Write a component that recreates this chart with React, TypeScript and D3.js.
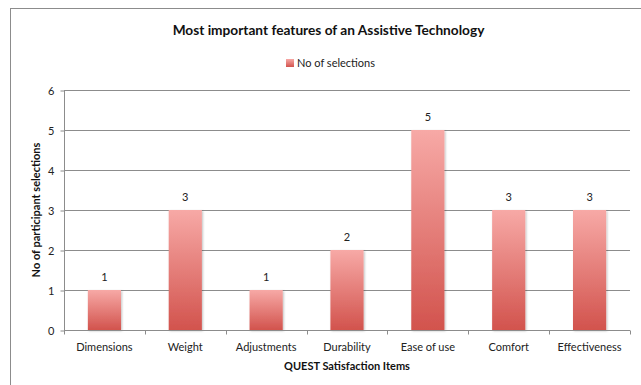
import { useEffect, useRef } from "react"
import * as d3 from "d3"

const categories = ["Dimensions", "Weight", "Adjustments", "Durability", "Ease of use", "Comfort", "Effectiveness"]
const selections = [1, 3, 1, 2, 5, 3, 3]
const yTicks = [0, 1, 2, 3, 4, 5, 6]

const W = 641
const H = 385
const FONT = "Lato, 'Open Sans', sans-serif"

export default function App() {
  const svgRef = useRef<SVGSVGElement>(null)

  useEffect(() => {
    const svg = d3.select(svgRef.current!)
    svg.selectAll("*").remove()

    const left = 64
    const right = 630
    const top = 90
    const bottom = 330

    const x = d3.scaleBand<string>().domain(categories).range([left, right]).paddingInner(0.59).paddingOuter(0.295)
    const band = d3.scaleBand<string>().domain(categories).range([left, right])
    const y = d3.scaleLinear().domain([0, 6]).range([bottom, top])

    const defs = svg.append("defs")
    const grad = defs
      .append("linearGradient")
      .attr("id", "barGrad")
      .attr("x1", 0)
      .attr("y1", 0)
      .attr("x2", 0)
      .attr("y2", 1)
    grad.append("stop").attr("offset", "0%").attr("stop-color", "#f7a9a6")
    grad.append("stop").attr("offset", "100%").attr("stop-color", "#d2534d")

    const shadow = defs.append("filter").attr("id", "shadow").attr("x", "-20%").attr("y", "-10%").attr("width", "150%").attr("height", "130%")
    shadow.append("feDropShadow").attr("dx", 1).attr("dy", 1).attr("stdDeviation", 1).attr("flood-color", "#000").attr("flood-opacity", 0.25)

    // chart frame
    svg
      .append("rect")
      .attr("x", 10.5)
      .attr("y", 8.5)
      .attr("width", W + 20)
      .attr("height", H + 20)
      .attr("fill", "#fff")
      .attr("stroke", "#8c8c8c")

    // title
    svg
      .append("text")
      .attr("x", 328.5)
      .attr("y", 35)
      .attr("text-anchor", "middle")
      .attr("font-family", FONT)
      .attr("font-size", 13.7)
      .attr("font-weight", 700)
      .attr("fill", "#111")
      .text("Most important features of an Assistive Technology")

    // legend
    svg.append("rect").attr("x", 286).attr("y", 59).attr("width", 8).attr("height", 8).attr("fill", "url(#barGrad)")
    svg
      .append("text")
      .attr("x", 297)
      .attr("y", 67)
      .attr("font-family", FONT)
      .attr("font-size", 11)
      .attr("fill", "#222")
      .text("No of selections")

    // gridlines
    svg
      .append("g")
      .selectAll("line")
      .data(yTicks.slice(1))
      .join("line")
      .attr("x1", left)
      .attr("x2", right)
      .attr("y1", (d) => Math.round(y(d)) + 0.5)
      .attr("y2", (d) => Math.round(y(d)) + 0.5)
      .attr("stroke", "#8c8c8c")

    // y axis
    const yAxis = svg.append("g").attr("transform", `translate(${left + 0.5},0.5)`)
    yAxis.call(d3.axisLeft(y).tickValues(yTicks).tickSize(4).tickPadding(6).tickFormat(d3.format("d")))
    yAxis.select(".domain").attr("stroke", "#8c8c8c").attr("d", `M0,${y(6)}V${y(0)}`)
    yAxis.selectAll(".tick line").attr("stroke", "#8c8c8c")
    yAxis.selectAll("text").attr("font-family", FONT).attr("font-size", 11).attr("fill", "#222")

    // bars
    svg
      .append("g")
      .selectAll("rect")
      .data(categories)
      .join("rect")
      .attr("x", (d) => x(d)!)
      .attr("width", x.bandwidth())
      .attr("y", (d, i) => y(selections[i]))
      .attr("height", (d, i) => y(0) - y(selections[i]))
      .attr("fill", "url(#barGrad)")
      .attr("filter", "url(#shadow)")

    // x axis
    const xAxis = svg.append("g").attr("transform", `translate(0,${Math.round(y(0)) + 0.5})`)
    xAxis
      .append("line")
      .attr("x1", left)
      .attr("x2", right)
      .attr("stroke", "#8c8c8c")
    xAxis
      .selectAll("line.tick")
      .data([...categories.map((c) => band(c)!), right])
      .join("line")
      .attr("class", "tick")
      .attr("x1", (d) => Math.round(d) + 0.5)
      .attr("x2", (d) => Math.round(d) + 0.5)
      .attr("y1", 0)
      .attr("y2", 4)
      .attr("stroke", "#8c8c8c")
    xAxis
      .selectAll("text")
      .data(categories)
      .join("text")
      .attr("x", (d) => band(d)! + band.bandwidth() / 2)
      .attr("y", 20)
      .attr("text-anchor", "middle")
      .attr("font-family", FONT)
      .attr("font-size", 11)
      .attr("fill", "#222")
      .text((d) => d)

    // value labels
    svg
      .append("g")
      .selectAll("text")
      .data(categories)
      .join("text")
      .attr("x", (d) => x(d)! + x.bandwidth() / 2)
      .attr("y", (d, i) => y(selections[i]) - 9)
      .attr("text-anchor", "middle")
      .attr("font-family", FONT)
      .attr("font-size", 11)
      .attr("fill", "#222")
      .text((d, i) => selections[i])

    // axis titles
    svg
      .append("text")
      .attr("x", 347)
      .attr("y", 370)
      .attr("text-anchor", "middle")
      .attr("font-family", FONT)
      .attr("font-size", 11)
      .attr("font-weight", 700)
      .attr("fill", "#111")
      .text("QUEST Satisfaction Items")
    svg
      .append("text")
      .attr("transform", `translate(40,${(top + bottom) / 2}) rotate(-90)`)
      .attr("text-anchor", "middle")
      .attr("font-family", FONT)
      .attr("font-size", 11)
      .attr("font-weight", 700)
      .attr("fill", "#111")
      .text("No of participant selections")
  }, [])

  return (
    <div style={{ position: "fixed", left: 0, top: 0, width: W, height: H, background: "#fff" }}>
      <svg ref={svgRef} width={W} height={H} style={{ display: "block" }} />
    </div>
  )
}
